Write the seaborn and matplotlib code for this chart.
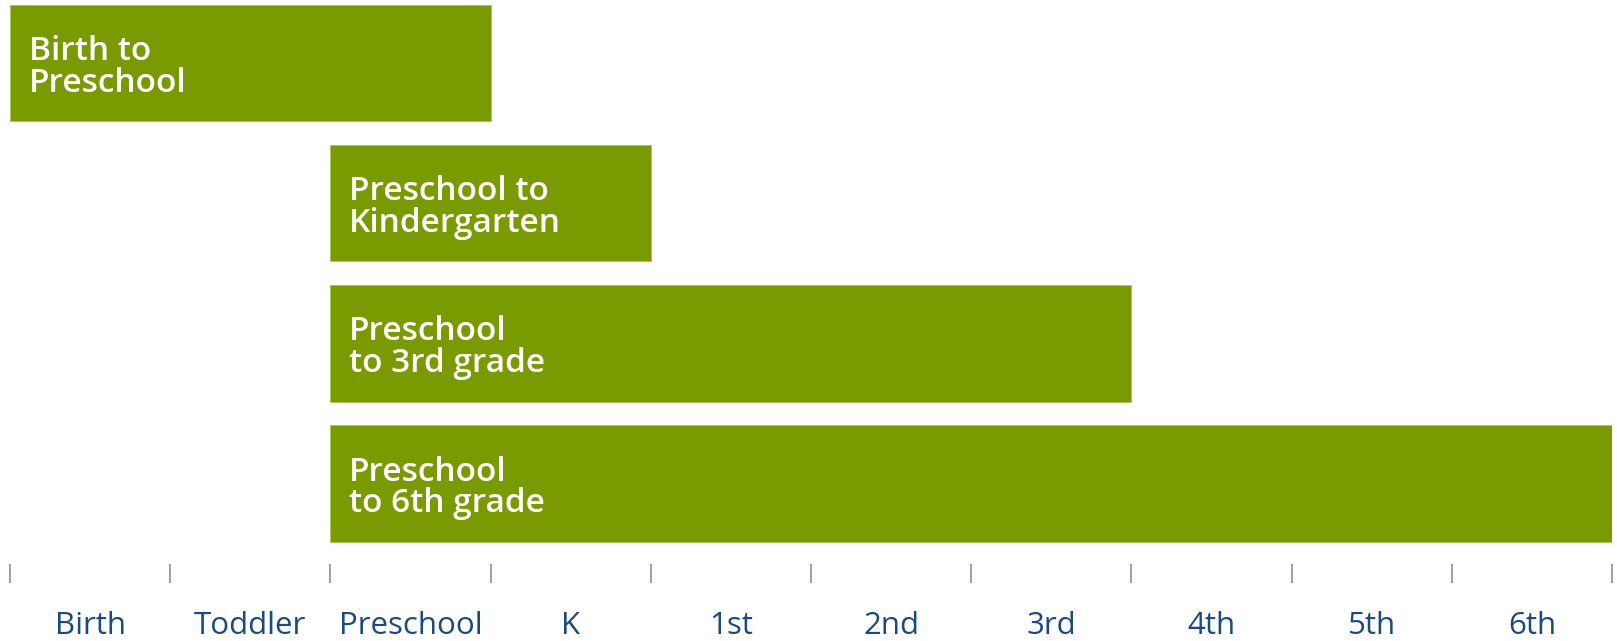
import matplotlib
matplotlib.use("Agg")
import matplotlib.pyplot as plt
import seaborn as sns
import pandas as pd
import numpy as np

# ---- data ----
stages = ["Birth", "Toddler", "Preschool", "K", "1st", "2nd", "3rd", "4th", "5th", "6th"]
line1 = ["Birth to", "Preschool to", "Preschool", "Preschool"]
line2 = ["Preschool", "Kindergarten", "to 3rd grade", "to 6th grade"]
start_stage = ["Birth", "Preschool", "Preschool", "Preschool"]
end_stage = ["Preschool", "K", "3rd", "6th"]

start = [stages.index(s) for s in start_stage]
end = [stages.index(e) + 1 for e in end_stage]
df = pd.DataFrame({
    "program": [a + " " + b for a, b in zip(line1, line2)],
    "start": start,
    "duration": [e - s for s, e in zip(start, end)],
})

sns.set_theme(style="white")
plt.rcParams["font.family"] = ["Open Sans", "DejaVu Sans"]

BAR = "#7a9a01"
LABEL = "#1b4a80"

fig = plt.figure(figsize=(16.17, 6.41), dpi=100)
ax = fig.add_axes([10 / 1617, 58 / 641, 1602 / 1617, 583 / 641])

sns.barplot(data=df, x="duration", y="program", orient="h", color=BAR,
            saturation=1, width=0.83, ax=ax, edgecolor="#a9c25a", linewidth=0.6)
for patch, s in zip(ax.patches, df["start"]):
    patch.set_x(s)

ax.set_xlim(0, len(stages))
ax.set_ylim(3.709, -0.449)
ax.set_yticks([])
ax.set_xlabel("")
ax.set_ylabel("")
for sp in ax.spines.values():
    sp.set_visible(False)

ax.set_xticks(np.arange(len(stages) + 1))
ax.set_xticklabels([])
ax.set_xticks(np.arange(len(stages)) + 0.5, minor=True)
ax.set_xticklabels(stages, minor=True)
ax.tick_params(axis="x", which="major", bottom=True, direction="in",
               length=13.7, width=1.4, color="#a0a0a0")
ax.tick_params(axis="x", which="minor", bottom=True, length=0, pad=20,
               labelsize=22.5, labelcolor=LABEL)

for i, (a, b, s) in enumerate(zip(line1, line2, df["start"])):
    ax.annotate(a, xy=(s, i), xytext=(13.5, 2.2), textcoords="offset points",
                ha="left", va="baseline", color="white", fontsize=24,
                fontweight="semibold")
    ax.annotate(b, xy=(s, i), xytext=(13.5, -20.8), textcoords="offset points",
                ha="left", va="baseline", color="white", fontsize=24,
                fontweight="semibold")

fig.savefig("out.png", dpi=100)
